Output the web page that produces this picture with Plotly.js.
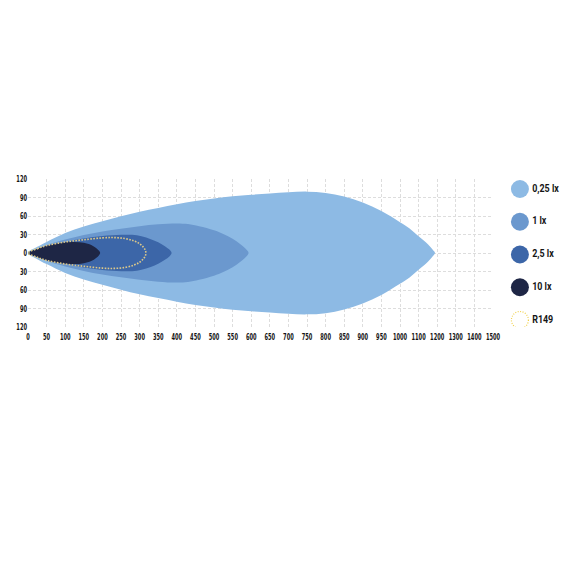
<!DOCTYPE html>
<html>
<head>
<meta charset="utf-8">
<script src="https://cdn.plot.ly/plotly-3.0.1.min.js"></script>
<style>html,body{margin:0;padding:0;background:#fff;}#chart{width:570px;height:570px;}</style>
</head>
<body>
<div id="chart"></div>
<script>
// ---- data (distance in metres, half-width in metres) ----
const xTickLabels = ['0','50','100','150','200','250','300','350','400','450','500','550','600','650','700','750','800','850','900','950','1000','1100','1200','1300','1400','1500'];
const yTickValues = [120, 90, 60, 30, 0, -30, -60, -90, -120];
const yTickLabels = ['120','90','60','30','0','30','60','90','120'];

const seriesNames = ['0,25 lx', '1 lx', '2,5 lx', '10 lx', 'R149'];
const seriesColors = ['#8dbae4', '#6b98ce', '#3c66a8', '#1e2645', '#dcc88a'];

const dist025 = [0, 25, 50, 100, 150, 200, 250, 300, 350, 400, 450, 500, 550, 600, 650, 700, 750, 800, 850, 900, 950, 1000, 1050, 1100, 1150, 1175, 1188];
const half025 = [0, 10, 18, 32.5, 43, 51.5, 59.5, 67, 73, 79, 84.5, 88.5, 92, 94.5, 96.5, 98.5, 99.5, 97.5, 91.5, 82, 68, 50, 40, 27, 14, 5.5, 0];

const dist1 = [0, 25, 50, 100, 150, 200, 250, 300, 350, 400, 430, 460, 500, 525, 550, 570, 583, 590, 593];
const half1 = [0, 7, 13, 21.7, 29, 35, 39.5, 43.5, 46.5, 48, 47, 43.5, 37, 31, 23, 14.5, 8, 3.5, 0];

const dist25 = [0, 25, 50, 100, 150, 200, 250, 280, 305, 330, 350, 368, 380, 386];
const half25 = [0, 6, 11, 18, 23.5, 27.5, 29.5, 29.5, 27, 22.5, 17.5, 11, 5.5, 0];

const dist10 = [0, 25, 50, 75, 100, 125, 150, 170, 183, 191, 194];
const half10 = [0, 7, 12, 15.5, 17.5, 18, 16.5, 13, 8, 3.5, 0];

const distR149 = [0, 25, 50, 100, 150, 200, 230, 260, 285, 300, 310, 315, 317];
const halfR149 = [0, 7, 12, 17.8, 21.5, 24.5, 25, 23.5, 19.5, 15, 9.5, 5, 0];

// axis is evenly ticked: 50 m per tick up to 1000, then 100 m per tick
function pos(m) { return m <= 1000 ? m : 1000 + (m - 1000) / 2; }

function outline(d, h) {
  const xs = [], ys = [];
  for (let i = 0; i < d.length; i++) { xs.push(pos(d[i])); ys.push(h[i]); }
  for (let i = d.length - 2; i >= 0; i--) { xs.push(pos(d[i])); ys.push(-h[i]); }
  return {x: xs, y: ys};
}

const shapesData = [[dist025, half025], [dist1, half1], [dist25, half25], [dist10, half10]];
const traces = [];
shapesData.forEach((s, i) => {
  const o = outline(s[0], s[1]);
  traces.push({
    type: 'scatter', mode: 'lines', x: o.x, y: o.y,
    fill: 'toself', fillcolor: seriesColors[i],
    line: {width: 0, shape: 'spline', smoothing: 1, color: seriesColors[i]},
    hoverinfo: 'skip', showlegend: false, xaxis: 'x', yaxis: 'y'
  });
});
const r = outline(distR149, halfR149);
traces.push({
  type: 'scatter', mode: 'lines', x: r.x, y: r.y,
  line: {width: 1.6, dash: '1.6px,1.4px', shape: 'spline', smoothing: 1, color: seriesColors[4]},
  hoverinfo: 'skip', showlegend: false, xaxis: 'x', yaxis: 'y'
});

// custom legend drawn in a second subplot
const legY = seriesNames.map((n, i) => -i);
const legFam = 'Roboto, "DejaVu Sans", sans-serif';
const tickFam = '"Liberation Sans Narrow", "DejaVu Sans Condensed", Roboto, sans-serif';
traces.push({
  type: 'scatter', mode: 'markers+text',
  x: seriesNames.map(() => 0.23), y: legY,
  text: seriesNames, textposition: 'middle right',
  textfont: {family: legFam, size: 10.5, weight: 'bold', color: '#151515'},
  marker: {size: 18, color: seriesColors.map((c, i) => i === 4 ? 'rgba(0,0,0,0)' : c), line: {width: 0}},
  hoverinfo: 'skip', showlegend: false, xaxis: 'x2', yaxis: 'y2', cliponaxis: false
});

const tickFont = {family: tickFam, size: 9.5, weight: 'bold', color: '#151515'};

const layout = {
  width: 570, height: 570,
  paper_bgcolor: '#fff', plot_bgcolor: '#fff',
  margin: {l: 28, r: 0, t: 179, b: 243, pad: 0},
  showlegend: false,
  xaxis: {
    domain: [0, 465 / 542], range: [0, pos(1500)],
    tickvals: xTickLabels.map(l => pos(Number(l))), ticktext: xTickLabels, tickangle: 0,
    ticklabelstandoff: 2,
    tickfont: tickFont, showgrid: true, gridcolor: '#dddddd', griddash: '3px,2px', gridwidth: 1,
    zeroline: false, showline: false, ticks: '', fixedrange: true
  },
  yaxis: {
    domain: [0, 1], range: [-120, 120],
    tickvals: yTickValues, ticktext: yTickLabels,
    tickfont: tickFont, showgrid: true, gridcolor: '#dddddd', griddash: '3px,2px', gridwidth: 1,
    zeroline: false, showline: false, ticks: '', fixedrange: true
  },
  xaxis2: {domain: [0.88, 1], range: [0, 1], visible: false, anchor: 'y2', fixedrange: true},
  yaxis2: {domain: [0, 1], range: [-4.214, 0.305], visible: false, anchor: 'x2', fixedrange: true},
  shapes: [{
    type: 'circle', xref: 'x2', yref: 'y2', xsizemode: 'pixel', ysizemode: 'pixel',
    xanchor: 0.23, yanchor: legY[4], x0: -8.5, x1: 8.5, y0: -8.5, y1: 8.5,
    line: {color: '#f0d04a', width: 1.2, dash: '1px,1.5px'}
  }]
};

// condense glyphs to the narrow look of the original
function squeezeTo(selector, perChar) {
  document.querySelectorAll(selector).forEach(el => {
    const w = el.getComputedTextLength();
    const target = el.textContent.length * perChar;
    if (w > target) {
      el.setAttribute('textLength', target.toFixed(2));
      el.setAttribute('lengthAdjust', 'spacingAndGlyphs');
    }
  });
}
function squeeze(selector, factor) {
  document.querySelectorAll(selector).forEach(el => {
    const w = el.getComputedTextLength();
    if (w > 0) {
      el.setAttribute('textLength', (w * factor).toFixed(2));
      el.setAttribute('lengthAdjust', 'spacingAndGlyphs');
    }
  });
}

Plotly.newPlot('chart', traces, layout, {staticPlot: true, displayModeBar: false}).then(() => {
  squeezeTo('#chart .xtick text', 3.55);
  squeezeTo('#chart .ytick text', 3.55);
  squeeze('#chart .textpoint text', 0.85);
});
</script>
</body>
</html>
